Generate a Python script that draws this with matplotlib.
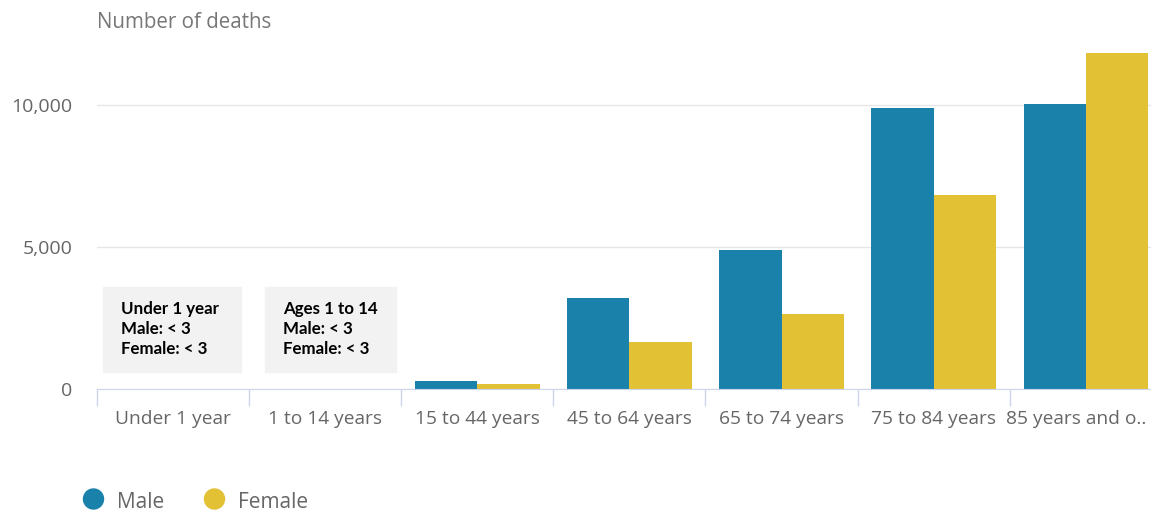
import numpy as np
import matplotlib.pyplot as plt
from matplotlib.patches import Rectangle, Ellipse
from matplotlib.ticker import FuncFormatter
from matplotlib.transforms import ScaledTranslation

categories = ["Under 1 year", "1 to 14 years", "15 to 44 years", "45 to 64 years",
              "65 to 74 years", "75 to 84 years", "85 years and o.."]
male = [0, 0, 303, 3215, 4905, 9920, 10050]
female = [0, 0, 187, 1676, 2650, 6830, 11830]
yticks = [0, 5000, 10000]
notes = ["Under 1 year\nMale: < 3\nFemale: < 3",
         "Ages 1 to 14\nMale: < 3\nFemale: < 3"]

MALE_C = "#1a81aa"
FEMALE_C = "#e3c135"
TXT = "#666666"

W, H = 1151, 512
fig = plt.figure(figsize=(W / 100, H / 100), dpi=100)
# axes runs past the right edge, like the cropped original
left, right = 96.7, 1162
bottom, top = 389.3, 48
ax = fig.add_axes([left / W, (H - bottom) / H, (right - left) / W, (bottom - top) / H])

x = np.arange(len(categories))
bw = 0.41
ax.bar(x - bw / 2, male, bw, color=MALE_C, zorder=3)
ax.bar(x + bw / 2, female, bw, color=FEMALE_C, zorder=3)

ax.set_xlim(-0.5, len(categories) - 0.5)
ax.set_ylim(0, 10000 * (bottom - top) / (bottom - 105.3))

for s in ["top", "right", "left"]:
    ax.spines[s].set_visible(False)
ax.spines["bottom"].set_color("#ccd6eb")
ax.spines["bottom"].set_zorder(4)

ax.set_yticks(yticks)
ax.yaxis.set_major_formatter(FuncFormatter(lambda v, p: f"{int(v):,}"))
ax.tick_params(axis="y", length=0, pad=17.5, labelsize=14, labelcolor=TXT)
for t in ax.get_yticklabels():
    t.set_family("Open Sans")
ax.grid(axis="y", color="#e6e6e6", linewidth=1, zorder=0)

ax.set_xticks(x)
ax.set_xticklabels(categories, family="Open Sans", fontsize=13.8, color=TXT)
ax.tick_params(axis="x", which="major", length=0, pad=15)
ax.set_xticks(np.arange(-0.5, len(categories)), minor=True)
ax.tick_params(axis="x", which="minor", length=12, color="#ccd6eb", width=1)
# last label is truncated in the original; nudge it left so it fits
last = ax.get_xticklabels()[-1]
last.set_transform(last.get_transform() + ScaledTranslation(-0.1, 0, fig.dpi_scale_trans))

fig.text(97 / W, 1 - 22 / H, "Number of deaths", family="Open Sans", fontsize=14.8,
         color="#777777", va="center", ha="left")

# grey note boxes for the suppressed counts
box_px = [(103, 241), (265, 396)]
for (x0, x1), note in zip(box_px, notes):
    fig.add_artist(Rectangle((x0 / W, 1 - 372 / H), (x1 - x0) / W, 85 / H,
                             transform=fig.transFigure, color="#f2f2f2", zorder=5))
    fig.text((x0 + 18) / W, 1 - 329 / H, note, family="Lato", fontweight="bold",
             fontsize=12.2, color="black", va="center", ha="left", linespacing=1.3,
             zorder=6)

# legend
for cx, tx, lab, c in [(93.5, 117, "Male", MALE_C), (214.5, 238, "Female", FEMALE_C)]:
    fig.add_artist(Ellipse((cx / W, 1 - 499 / H), 20 / W, 20 / H, color=c,
                           transform=fig.transFigure))
    fig.text(tx / W, 1 - 502 / H, lab, family="Open Sans", fontsize=15,
             color=TXT, va="center", ha="left")

fig.savefig("out.png", dpi=100)
